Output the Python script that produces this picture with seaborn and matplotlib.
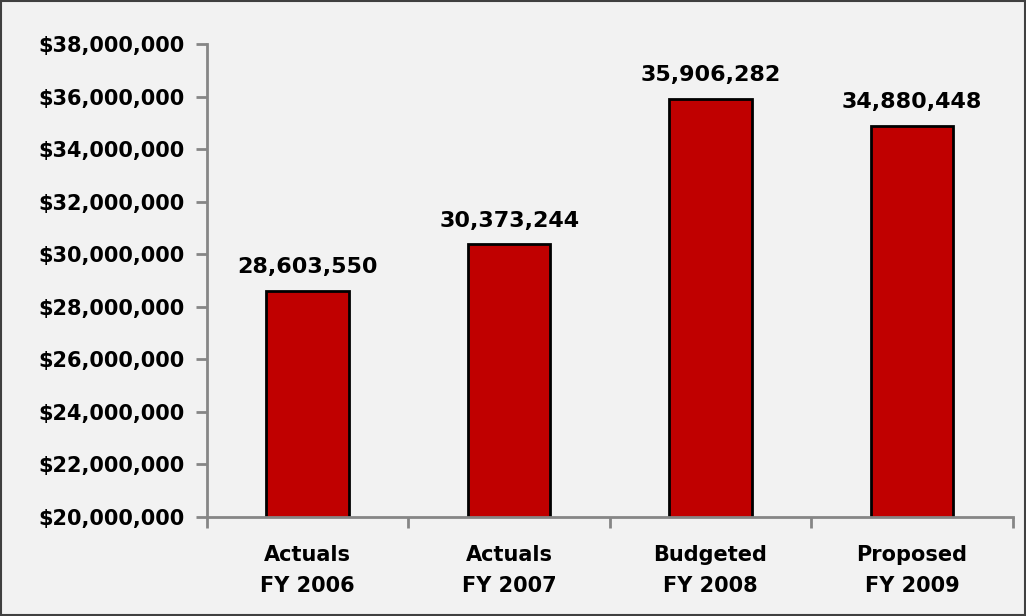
import matplotlib
matplotlib.use("Agg")
import matplotlib.pyplot as plt
import matplotlib.ticker as mticker
from matplotlib.patches import Rectangle
import seaborn as sns
import pandas as pd

categories = ["Actuals\nFY 2006", "Actuals\nFY 2007", "Budgeted\nFY 2008", "Proposed\nFY 2009"]
values = [28603550, 30373244, 35906282, 34880448]
y_ticks = [20000000, 22000000, 24000000, 26000000, 28000000, 30000000, 32000000, 34000000, 36000000, 38000000]

sns.set_theme(style="white")
plt.rcParams['font.family'] = ['DejaVu Sans']

bg = "#f2f2f2"
axis_gray = "#868686"
bar_red = "#c00000"

fig = plt.figure(figsize=(10.26, 6.16), dpi=100, facecolor=bg)
ax = fig.add_axes([0.2018, 0.1607, 0.7852, 0.7679])
ax.set_facecolor(bg)

df = pd.DataFrame({"cat": categories, "val": values})
sns.barplot(data=df, x="cat", y="val", color=bar_red, saturation=1, width=0.41,
            edgecolor="black", linewidth=2, ax=ax)

ax.set_ylim(20000000, 38000000)
ax.set_xlim(-0.5, 3.5)
ax.set_yticks(y_ticks)
ax.yaxis.set_major_formatter(mticker.FuncFormatter(lambda v, p: "${:,.0f}".format(v)))
ax.set_xticks([0, 1, 2, 3])
ax.set_xticklabels(categories)
ax.set_xticks([-0.5, 0.5, 1.5, 2.5, 3.5], minor=True)
ax.tick_params(axis="x", which="major", length=0, pad=20, labelsize=15)
ax.tick_params(axis="x", which="minor", length=8, width=2, color=axis_gray, direction="out", bottom=True)
ax.tick_params(axis="y", length=8, width=2, color=axis_gray, direction="out", left=True, labelsize=15, pad=8)
for lab in ax.get_xticklabels() + ax.get_yticklabels():
    lab.set_fontweight("bold")
    lab.set_color("black")
for lab in ax.get_xticklabels():
    lab.set_linespacing(1.7)

for s in ["top", "right"]:
    ax.spines[s].set_visible(False)
for s in ["left", "bottom"]:
    ax.spines[s].set_color(axis_gray)
    ax.spines[s].set_linewidth(2)
    ax.spines[s].set_zorder(5)

ax.set_xlabel("")
ax.set_ylabel("")

for i, v in enumerate(values):
    ax.annotate("{:,}".format(v), xy=(i, v), xytext=(0, 10), textcoords="offset points",
                ha="center", va="bottom", fontsize=16, fontweight="bold", color="black")

fig.patches.append(Rectangle((0.001, 0.002), 0.998, 0.996, transform=fig.transFigure,
                             fill=False, edgecolor="#404040", linewidth=1.5))

fig.savefig("out.png", dpi=100, facecolor=bg)
